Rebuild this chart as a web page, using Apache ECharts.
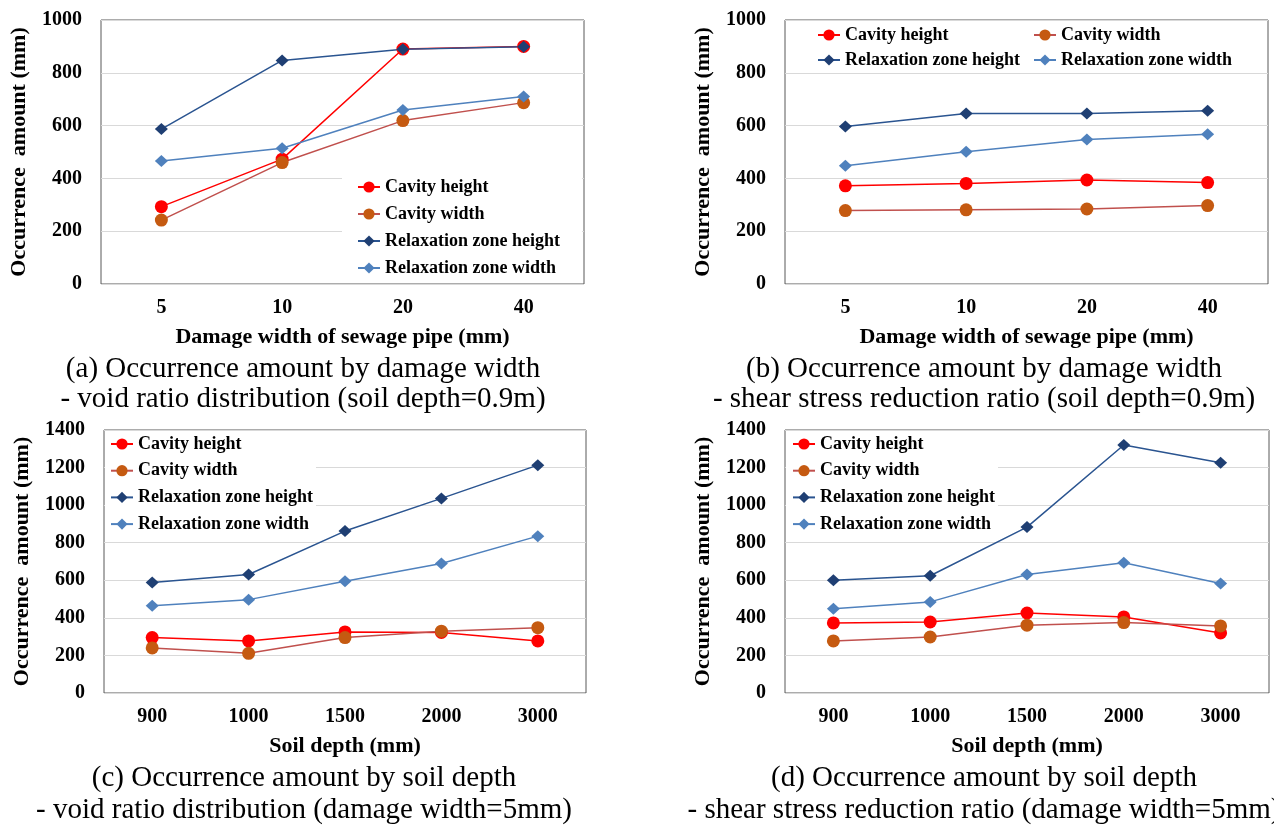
<!DOCTYPE html>
<html><head><meta charset="utf-8">
<script src="https://cdn.jsdelivr.net/npm/echarts@6/dist/echarts.min.js"></script>
<style>html,body{margin:0;padding:0;background:#fff}#c{width:1274px;height:825px}</style>
</head><body><div id="c"></div>
<script>
// ---- data ----
const widthCats = ['5', '10', '20', '40'];
const depthCats = ['900', '1000', '1500', '2000', '3000'];
const seriesNames = ['Cavity height', 'Cavity width', 'Relaxation zone height', 'Relaxation zone width'];

const aCavityHeight = [293, 473, 890, 900];
const aCavityWidth  = [242, 460, 619, 687];
const aRelaxHeight  = [587, 847, 889, 899];
const aRelaxWidth   = [466, 514, 659, 710];

const bCavityHeight = [372, 381, 394, 384];
const bCavityWidth  = [278, 281, 284, 297];
const bRelaxHeight  = [597, 646, 646, 656];
const bRelaxWidth   = [448, 501, 547, 567];

const cCavityHeight = [295, 277, 325, 322, 277];
const cCavityWidth  = [240, 211, 295, 329, 348];
const cRelaxHeight  = [588, 631, 862, 1036, 1213];
const cRelaxWidth   = [465, 497, 595, 689, 835];

const dCavityHeight = [373, 378, 426, 405, 320];
const dCavityWidth  = [277, 298, 361, 375, 357];
const dRelaxHeight  = [600, 624, 883, 1320, 1226];
const dRelaxWidth   = [449, 485, 631, 693, 583];

const yTicksAB = {min: 0, max: 1000, interval: 200};
const yTicksCD = {min: 0, max: 1400, interval: 200};

const xNameAB = 'Damage width of sewage pipe (mm)';
const xNameCD = 'Soil depth (mm)';
const yName = 'Occurrence  amount (mm)';

const captions = [
  ['(a) Occurrence amount by damage width', '- void ratio distribution (soil depth=0.9m)'],
  ['(b) Occurrence amount by damage width', '- shear stress reduction ratio (soil depth=0.9m)'],
  ['(c) Occurrence amount by soil depth', '- void ratio distribution (damage width=5mm)'],
  ['(d) Occurrence amount by soil depth', '- shear stress reduction ratio (damage width=5mm)']
];

// ---- styling ----
const SERIF = '"Liberation Serif", "Times New Roman", serif';
const styles = [
  {symbol: 'circle', size: 13, line: '#FF0000', mark: '#FF0000'},
  {symbol: 'circle', size: 13, line: '#C0504D', mark: '#C55A11'},
  {symbol: 'diamond', size: [13, 12], line: '#2A5490', mark: '#1F3F73'},
  {symbol: 'diamond', size: [13, 12], line: '#4F81BD', mark: '#4F81BD'}
];

const grids = [
  {left: 101, top: 20, width: 483, height: 264},
  {left: 785, top: 20, width: 483, height: 264},
  {left: 104, top: 430, width: 482, height: 263},
  {left: 785, top: 430, width: 484, height: 263}
];

const allData = [
  [aCavityHeight, aCavityWidth, aRelaxHeight, aRelaxWidth],
  [bCavityHeight, bCavityWidth, bRelaxHeight, bRelaxWidth],
  [cCavityHeight, cCavityWidth, cRelaxHeight, cRelaxWidth],
  [dCavityHeight, dCavityWidth, dRelaxHeight, dRelaxWidth]
];

const xAxes = [], yAxes = [], series = [];
grids.forEach((g, i) => {
  const cats = i < 2 ? widthCats : depthCats;
  const yt = i < 2 ? yTicksAB : yTicksCD;
  xAxes.push({
    gridIndex: i, type: 'category', data: cats, boundaryGap: true,
    axisLine: {show: false}, axisTick: {show: false},
    axisLabel: {margin: 14, color: '#000', fontFamily: SERIF, fontWeight: 'bold', fontSize: 20},
    name: i < 2 ? xNameAB : xNameCD, nameLocation: 'middle', nameGap: 42,
    nameTextStyle: {color: '#000', fontFamily: SERIF, fontWeight: 'bold', fontSize: 22}
  });
  yAxes.push({
    gridIndex: i, type: 'value', min: yt.min, max: yt.max, interval: yt.interval,
    axisLine: {show: false}, axisTick: {show: false},
    splitLine: {lineStyle: {color: '#D9D9D9', width: 1}},
    axisLabel: {margin: 19, color: '#000', fontFamily: SERIF, fontWeight: 'bold', fontSize: 20,
      formatter: v => String(v)},
    name: yName, nameLocation: 'middle', nameRotate: 90, nameGap: 71,
    nameTextStyle: {color: '#000', fontFamily: SERIF, fontWeight: 'bold', fontSize: 22}
  });
  allData[i].forEach((arr, k) => {
    const s = styles[k];
    series.push({
      name: seriesNames[k], type: 'line', xAxisIndex: i, yAxisIndex: i,
      data: arr, symbol: s.symbol, symbolSize: s.size, showAllSymbol: true,
      lineStyle: {color: s.line, width: 1.5},
      itemStyle: {color: s.mark, borderWidth: 0},
      emphasis: {disabled: true}, animation: false
    });
  });
});

const legText = {color: '#000', fontFamily: SERIF, fontWeight: 'bold', fontSize: 18, lineHeight: 18};
const legBase = {orient: 'vertical', itemWidth: 22, itemHeight: 14, textStyle: legText, selectedMode: false, z: 5};

const legends = [
  Object.assign({}, legBase, {data: seriesNames, left: 342, top: 175, itemGap: 9,
    padding: [3, 22, 6, 15], backgroundColor: '#ffffff'}),
  Object.assign({}, legBase, {data: [seriesNames[0], seriesNames[2]], left: 817, top: 26, itemGap: 7, padding: 0}),
  Object.assign({}, legBase, {data: [seriesNames[1], seriesNames[3]], left: 1033, top: 26, itemGap: 7, padding: 0}),
  Object.assign({}, legBase, {data: seriesNames, left: 105, top: 431, itemGap: 8.7,
    padding: [4, 3, 3, 5], backgroundColor: '#ffffff'}),
  Object.assign({}, legBase, {data: seriesNames, left: 786, top: 431, itemGap: 8.7,
    padding: [4, 3, 3, 6], backgroundColor: '#ffffff'})
];

const capPos = [
  {x: 303, y1: 369, y2: 399},
  {x: 984, y1: 369, y2: 399},
  {x: 304, y1: 778, y2: 810},
  {x: 984, y1: 778, y2: 810}
];
const graphics = [];
captions.forEach((c, i) => {
  const p = capPos[i];
  [c[0], c[1]].forEach((t, j) => {
    graphics.push({type: 'text', x: p.x, y: j === 0 ? p.y1 : p.y2, silent: true,
      style: {text: t, fill: '#000', font: '29px ' + SERIF, textAlign: 'center', textVerticalAlign: 'middle'}});
  });
});

const chart = echarts.init(document.getElementById('c'), null, {renderer: 'canvas'});
chart.setOption({
  backgroundColor: '#ffffff',
  animation: false,
  grid: grids.map(g => Object.assign({show: true, borderColor: '#595959', borderWidth: 1, containLabel: false}, g)),
  xAxis: xAxes,
  yAxis: yAxes,
  legend: legends,
  series: series,
  graphic: graphics
});
</script>
</body></html>
